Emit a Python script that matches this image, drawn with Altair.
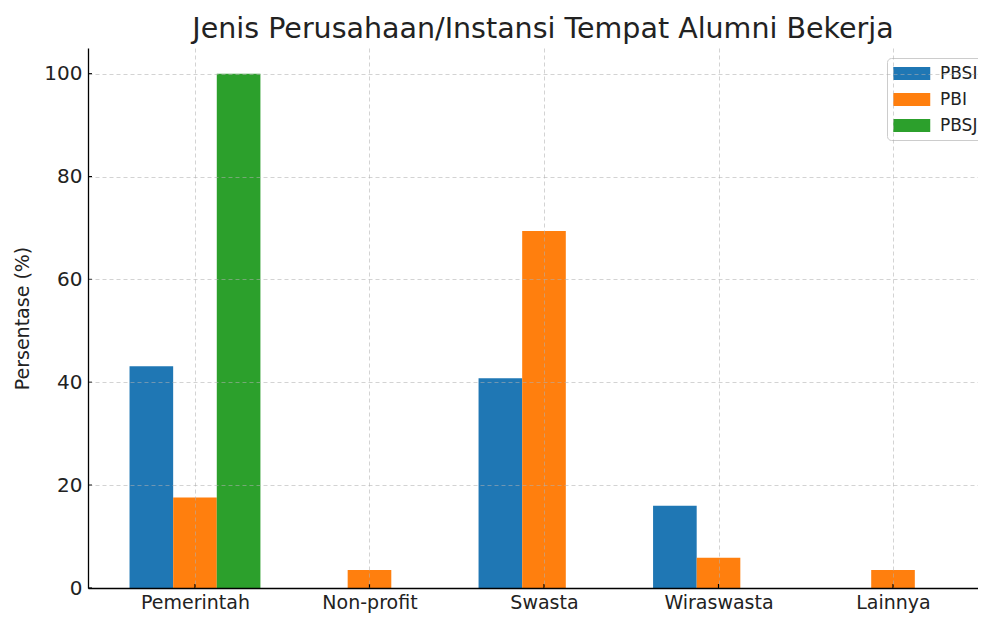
import altair as alt
import pandas as pd

categories = ["Pemerintah", "Non-profit", "Swasta", "Wiraswasta", "Lainnya"]
series = ["PBSI", "PBI", "PBSJ"]
pbsi = [43.1, 0.0, 40.8, 16.0, 0.0]
pbi = [17.6, 3.5, 69.4, 5.9, 3.5]
pbsj = [100.0, 0.0, 0.0, 0.0, 0.0]
colors = ["#1f77b4", "#ff7f0e", "#2ca02c"]
y_ticks = [0, 20, 40, 60, 80, 100]

rows = []
for si, (name, vals) in enumerate(zip(series, [pbsi, pbi, pbsj])):
    for ci, (cat, v) in enumerate(zip(categories, vals)):
        rows.append({"cat": cat, "ci": ci, "series": name, "si": si, "value": v})
df = pd.DataFrame(rows)
cat_df = pd.DataFrame({"ci": list(range(len(categories))), "cat": categories})
ytick_df = pd.DataFrame({"v": y_ticks})

FONT = "DejaVu Sans"
W, H = 890, 540
label_expr = "[" + ",".join("'" + c + "'" for c in categories) + "][datum.value]"

xscale = alt.Scale(domain=[-0.613, 4.487], nice=False, zero=False)
yscale = alt.Scale(domain=[0, 105], nice=False)

bars = alt.Chart(df).transform_calculate(
    x0="datum.ci + (datum.si - 1) * 0.25 - 0.125",
    x1="datum.ci + (datum.si - 1) * 0.25 + 0.125",
).mark_bar(strokeWidth=0).encode(
    x=alt.X("x0:Q", scale=xscale,
            axis=alt.Axis(values=list(range(len(categories))), labelExpr=label_expr,
                          title=None, ticks=False, labelPadding=5, labelFontSize=19,
                          grid=True, zindex=1, labelColor="#222222")),
    x2="x1:Q",
    y=alt.Y("value:Q", scale=yscale,
            axis=alt.Axis(values=y_ticks, title="Persentase (%)", ticks=False,
                          labelPadding=6, labelFontSize=20, titleFontSize=19,
                          titlePadding=11, grid=True, zindex=1, labelColor="#222222",
                          titleColor="#222222", titleFontWeight="normal")),
    y2=alt.datum(0),
    color=alt.Color("series:N", scale=alt.Scale(domain=series, range=colors),
                    sort=series, title=None,
                    legend=alt.Legend(orient="none", legendX=799, legendY=10)),
)

xticks = alt.Chart(cat_df).mark_rule(color="black", strokeWidth=1.2).encode(
    x=alt.X("ci:Q", scale=xscale),
    y=alt.value(H),
    y2=alt.value(H - 4),
)
yticks = alt.Chart(ytick_df).mark_rule(color="black", strokeWidth=1.2).encode(
    y=alt.Y("v:Q", scale=yscale),
    x=alt.value(0),
    x2=alt.value(4),
)

chart = alt.layer(bars, xticks, yticks).properties(
    width=W, height=H,
    title=alt.TitleParams("Jenis Perusahaan/Instansi Tempat Alumni Bekerja",
                          fontSize=28.5, font=FONT, fontWeight="normal",
                          color="#222222", anchor="middle", dx=10, offset=5),
    autosize=alt.AutoSizeParams(type="none"),
    padding={"left": 80, "top": 40, "right": 0, "bottom": 29},
).configure_view(stroke=None).configure_axis(
    labelFont=FONT, titleFont=FONT, domainColor="black", domainWidth=1.3,
    gridColor="#b0b0b0", gridDash=[4, 3], gridWidth=0.8, gridOpacity=0.7,
).configure_legend(
    labelFont=FONT, labelFontSize=17, labelColor="#222222",
    symbolType="M-1,-0.7L3,-0.7L3,0.7L-1,0.7Z", symbolSize=342,
    symbolStrokeWidth=0, labelOffset=28, rowPadding=8, padding=6,
    fillColor="white", strokeColor="#cccccc", cornerRadius=4,
)

chart.save("out.html", embed_options={"renderer": "svg", "actions": False})
